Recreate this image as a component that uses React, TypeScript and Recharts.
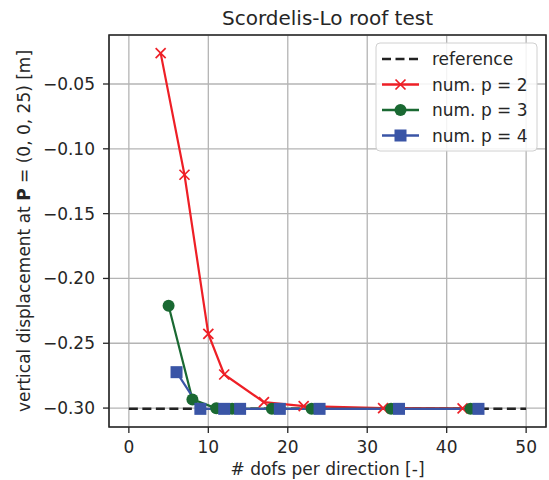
import React from 'react';
import { ComposedChart, Line, XAxis, YAxis, CartesianGrid, ReferenceArea } from 'recharts';

// dofs per direction for each polynomial degree
const dofsP2 = [4, 7, 10, 12, 17, 22, 32, 42];
const dofsP3 = [5, 8, 11, 13, 18, 23, 33, 43];
const dofsP4 = [6, 9, 12, 14, 19, 24, 34, 44];

// vertical displacement at P = (0, 0, 25)
const dispP2 = [-0.0262, -0.12, -0.2428, -0.2741, -0.2954, -0.2985, -0.3, -0.3003];
const dispP3 = [-0.221, -0.2933, -0.3002, -0.3005, -0.3006, -0.3006, -0.3006, -0.3006];
const dispP4 = [-0.2723, -0.3006, -0.3006, -0.3006, -0.3006, -0.3006, -0.3006, -0.3006];

const refDofs = [0, 50];
const refValue = -0.3006;

const xTicks = [0, 10, 20, 30, 40, 50];
const yTicks = [-0.3, -0.25, -0.2, -0.15, -0.1, -0.05];

const X_DOMAIN: [number, number] = [-2.5, 52.5];
const Y_DOMAIN: [number, number] = [-0.3146, -0.0122];

const RED = '#ee1f26';
const GREEN = '#1a6932';
const BLUE = '#3a55a6';
const INK = '#262626';
const FONT = '"DejaVu Sans", sans-serif';

const zip = (xs: number[], ys: number[]) => xs.map((x, i) => ({ x, y: ys[i] }));

const p2 = zip(dofsP2, dispP2);
const p3 = zip(dofsP3, dispP3);
const p4 = zip(dofsP4, dispP4);
const ref = refDofs.map((x) => ({ x, y: refValue }));

const Cross = ({ cx, cy, color, s = 5 }: any) => (
  <g>
    <line x1={cx - s} y1={cy - s} x2={cx + s} y2={cy + s} stroke={color} strokeWidth={1.7} />
    <line x1={cx - s} y1={cy + s} x2={cx + s} y2={cy - s} stroke={color} strokeWidth={1.7} />
  </g>
);

const Dot = ({ cx, cy, color }: any) => <circle cx={cx} cy={cy} r={6} fill={color} />;

const Square = ({ cx, cy, color }: any) => (
  <rect x={cx - 6} y={cy - 6} width={12} height={12} fill={color} />
);

const legendItems = [
  { label: 'reference', color: '#222', dash: '9 4.5', marker: null },
  { label: 'num. p = 2', color: RED, dash: undefined, marker: 'x' },
  { label: 'num. p = 3', color: GREEN, dash: undefined, marker: 'o' },
  { label: 'num. p = 4', color: BLUE, dash: undefined, marker: 's' },
];

const LegendBox = () => (
  <svg
    width={164}
    height={111}
    style={{ position: 'absolute', left: 375, top: 42 }}
  >
    <rect x={1} y={1} width={161} height={108} rx={4} fill="rgba(255,255,255,0.85)" stroke="#d0d0d0" />
    {legendItems.map((it, i) => {
      const y = 17 + i * 25.5;
      return (
        <g key={it.label}>
          <line x1={7} y1={y} x2={44} y2={y} stroke={it.color} strokeWidth={2.5} strokeDasharray={it.dash} />
          {it.marker === 'x' && <Cross cx={25.5} cy={y} color={it.color} />}
          {it.marker === 'o' && <Dot cx={25.5} cy={y} color={it.color} />}
          {it.marker === 's' && <Square cx={25.5} cy={y} color={it.color} />}
          <text x={57} y={y + 6} fontSize={17} fontFamily={FONT} fill={INK}>
            {it.label}
          </text>
        </g>
      );
    })}
  </svg>
);

const YLabel = () => (
  <text
    x={30}
    y={231}
    transform="rotate(-90, 30, 231)"
    textAnchor="middle"
    fontSize={17}
    fontFamily={FONT}
    fill={INK}
  >
    vertical displacement at <tspan fontWeight="bold">P</tspan> = (0, 0, 25) [m]
  </text>
);

const fmtY = (v: number) => '\u2212' + Math.abs(v).toFixed(2);

export default function App() {
  const tick = { fill: INK, fontSize: 17, fontFamily: FONT };
  return (
    <div style={{ position: 'absolute', left: 0, top: 0, width: 549, height: 480, background: '#fff' }}>
      <div
        style={{
          position: 'absolute',
          left: 109,
          width: 437,
          top: 6,
          textAlign: 'center',
          fontSize: 20,
          fontFamily: FONT,
          color: INK,
          lineHeight: '24px',
        }}
      >
        Scordelis-Lo roof test
      </div>
      <ComposedChart width={549} height={480} margin={{ top: 35, right: 3, bottom: 0, left: 0 }}>
        <CartesianGrid stroke="#b4b4b4" strokeWidth={1.3} />
        <XAxis
          type="number"
          dataKey="x"
          domain={X_DOMAIN}
          ticks={xTicks}
          allowDataOverflow
          height={53}
          axisLine={false}
          tickLine={{ stroke: INK, strokeWidth: 1.3 }}
          tickSize={6}
          tickMargin={8}
          tick={tick}
          label={{
            value: '# dofs per direction [-]',
            position: 'insideBottom',
            offset: 5,
            fill: INK,
            fontSize: 17,
            fontFamily: FONT,
          }}
        />
        <YAxis
          type="number"
          domain={Y_DOMAIN}
          ticks={yTicks}
          allowDataOverflow
          width={109}
          axisLine={false}
          tickLine={{ stroke: INK, strokeWidth: 1.3 }}
          tickSize={6}
          tickMargin={8}
          tick={tick}
          tickFormatter={fmtY}
          label={{ content: () => <YLabel /> }}
        />
        <ReferenceArea
          x1={X_DOMAIN[0]}
          x2={X_DOMAIN[1]}
          y1={Y_DOMAIN[0]}
          y2={Y_DOMAIN[1]}
          fill="none"
          stroke={INK}
          strokeWidth={1.6}
        />
        <Line
          data={ref}
          dataKey="y"
          stroke="#222"
          strokeWidth={2.5}
          strokeDasharray="9 4.5"
          dot={false}
          isAnimationActive={false}
        />
        <Line
          data={p2}
          dataKey="y"
          stroke={RED}
          strokeWidth={2.2}
          dot={(props: any) => <Cross key={`p2-${props.index}`} cx={props.cx} cy={props.cy} color={RED} />}
          isAnimationActive={false}
        />
        <Line
          data={p3}
          dataKey="y"
          stroke={GREEN}
          strokeWidth={2.2}
          dot={(props: any) => <Dot key={`p3-${props.index}`} cx={props.cx} cy={props.cy} color={GREEN} />}
          isAnimationActive={false}
        />
        <Line
          data={p4}
          dataKey="y"
          stroke={BLUE}
          strokeWidth={2.2}
          dot={(props: any) => <Square key={`p4-${props.index}`} cx={props.cx} cy={props.cy} color={BLUE} />}
          isAnimationActive={false}
        />
      </ComposedChart>
      <LegendBox />
    </div>
  );
}
